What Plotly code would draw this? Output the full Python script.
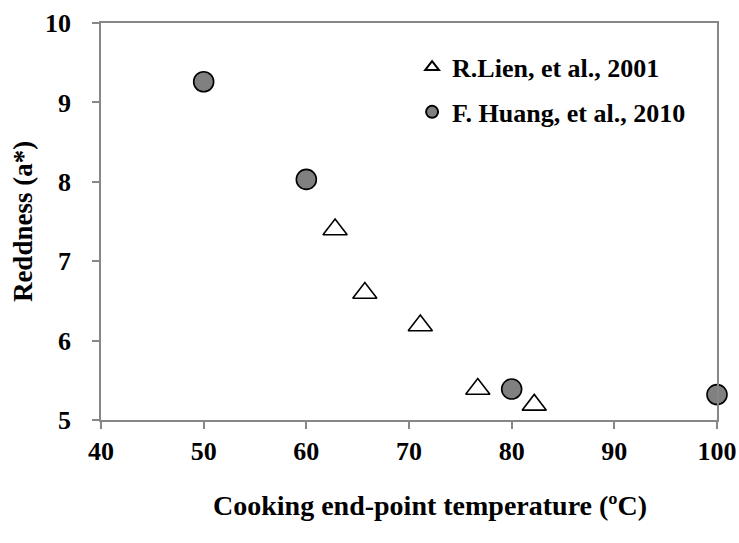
import plotly.graph_objects as go

# Cooking end-point temperature (°C) vs. reddness (a*)
lien_temp = [62.8, 65.7, 71.1, 76.7, 82.2]
lien_a = [7.40, 6.60, 6.19, 5.39, 5.19]

huang_temp = [50, 60, 80, 100]
huang_a = [9.26, 8.03, 5.39, 5.32]

x_ticks = [40, 50, 60, 70, 80, 90, 100]
y_ticks = [5, 6, 7, 8, 9, 10]

font_family = "Liberation Serif, Times New Roman, serif"
axis_grey = "#878787"

fig = go.Figure()

fig.add_trace(go.Scatter(
    x=lien_temp, y=lien_a, mode="markers",
    name="<b>R.Lien, et al., 2001</b>", legendgroup="lien",
    marker=dict(symbol="triangle-up", size=21, color="white",
                line=dict(color="black", width=1.6)),
    cliponaxis=False,
))
fig.add_trace(go.Scatter(
    x=huang_temp, y=huang_a, mode="markers",
    name="<b>F. Huang, et al., 2010</b>", legendgroup="huang",
    marker=dict(symbol="circle", size=20, color="#808080",
                line=dict(color="black", width=1.6)),
    cliponaxis=False,
))

axis_common = dict(
    showline=True, linecolor=axis_grey, linewidth=1.8, mirror=True,
    ticks="outside", ticklen=7, tickcolor=axis_grey, tickwidth=1.5,
    showgrid=False, zeroline=False, automargin=False,
    tickfont=dict(family=font_family, size=26, color="black", weight="bold"),
)

fig.update_xaxes(
    range=[40, 100], tickvals=x_ticks, ticktext=[str(v) for v in x_ticks],
    **axis_common,
)
fig.update_yaxes(
    range=[5, 10], tickvals=y_ticks, ticktext=[str(v) for v in y_ticks],
    ticklabelstandoff=16,
    title=dict(text="<b>Reddness (a*)</b>", standoff=4,
               font=dict(family=font_family, size=27, color="black")),
    **axis_common,
)

# x-axis title, set slightly right of the plot centre
fig.add_annotation(
    text="<b>Cooking end-point temperature (ºC)</b>",
    xref="paper", yref="paper", x=0.534, y=-0.215,
    xanchor="center", yanchor="middle", showarrow=False,
    font=dict(family=font_family, size=28, color="black"),
)

fig.update_layout(
    width=739, height=543,
    margin=dict(l=101, r=22, t=23, b=123),
    paper_bgcolor="white", plot_bgcolor="white",
    font=dict(family=font_family, color="black"),
    legend=dict(
        x=0.505, y=0.948, xanchor="left", yanchor="top",
        bgcolor="rgba(0,0,0,0)", tracegroupgap=8,
        font=dict(family=font_family, size=26, color="black"),
        itemsizing="constant",
    ),
)

fig.write_html("out.html")
